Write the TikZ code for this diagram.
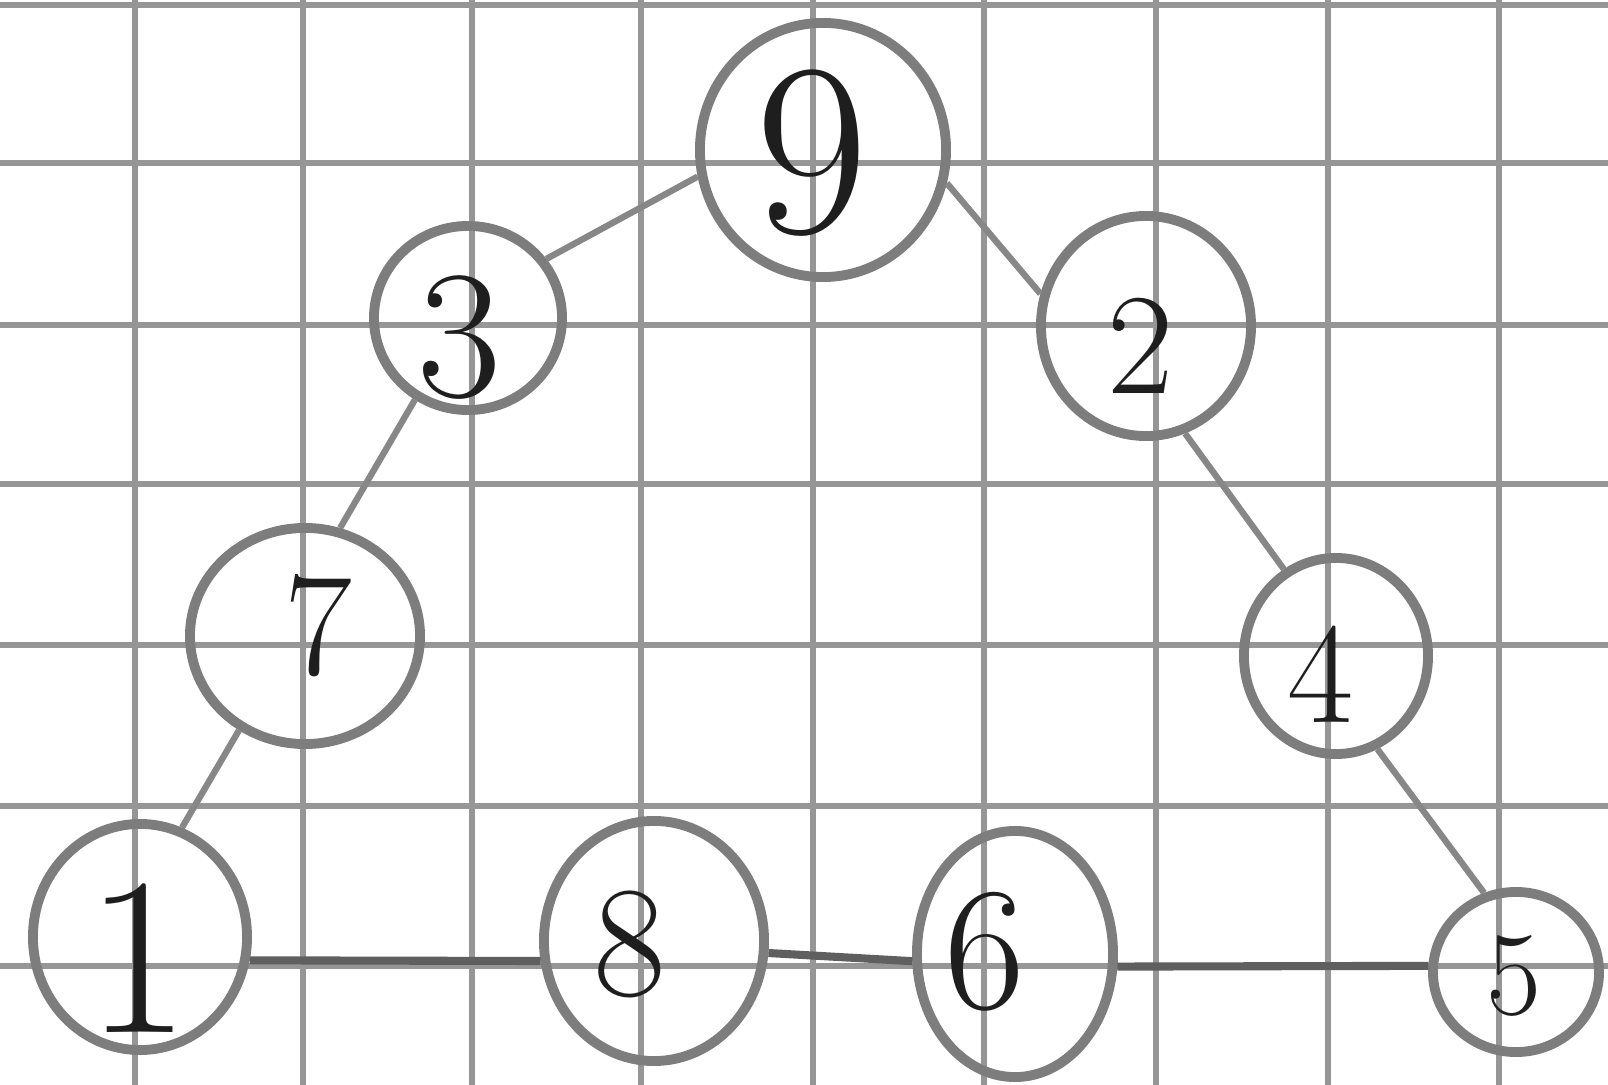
\documentclass[tikz,border=0pt]{standalone}
\usetikzlibrary{shapes.geometric}
\definecolor{gridc}{RGB}{150,150,150}
\definecolor{ringc}{RGB}{125,125,125}
\definecolor{edgec}{RGB}{135,135,135}
\definecolor{edged}{RGB}{95,95,95}
\definecolor{inkc}{RGB}{30,30,30}
\tikzset{
  gridline/.style={draw=gridc, line width=1.5pt},
  ring/.style={ellipse, draw=ringc, line width=2.8pt, inner sep=0pt},
  digit/.style={text=inkc, inner sep=0pt},
  edgelite/.style={draw=edgec, line width=1.8pt},
  edgedark/.style={draw=edged, line width=2.3pt},
}
\begin{document}
\begin{tikzpicture}[x=0.01cm,y=-0.01cm]
\useasboundingbox (0,0) rectangle (1608,1085);
\fill[white] (0,0) rectangle (1608,1085);
% grid
\foreach \gx in {135,303,472,641,813,984,1156,1328,1499}
  \draw[gridline] (\gx,0) -- (\gx,1085);
\foreach \gy in {5,163,325,484,645,806,966}
  \draw[gridline] (0,\gy) -- (1608,\gy);
% rings
\node[ring, minimum width=2.46cm, minimum height=2.54cm] (n9) at (823,150) {};
\node[ring, minimum width=1.88cm, minimum height=1.84cm] (n3) at (468,318) {};
\node[ring, minimum width=2.10cm, minimum height=2.20cm] (n2) at (1146,326) {};
\node[ring, minimum width=2.30cm, minimum height=2.16cm] (n7) at (305,636) {};
\node[ring, minimum width=1.84cm, minimum height=1.96cm] (n4) at (1336,656) {};
\node[ring, minimum width=2.14cm, minimum height=2.26cm] (n1) at (140,937) {};
\node[ring, minimum width=2.20cm, minimum height=2.40cm] (n8) at (654,941) {};
\node[ring, minimum width=1.96cm, minimum height=2.46cm] (n6) at (1015,954) {};
\node[ring, minimum width=1.66cm, minimum height=1.60cm] (n5) at (1516,972) {};
% edges
\draw[edgelite] (n3.37) -- (n9.192);
\draw[edgelite] (n9.-15) -- (n2.163);
\draw[edgelite] (n3.237) -- (n7.72);
\draw[edgelite] (n7.235) -- (n1.69);
\draw[edgelite] (n2.-70) -- (n4.121);
\draw[edgelite] (n4.-66) -- (n5.112);
\draw[edgedark] (n1.-12) -- (n8.190);
\draw[edgedark] (n8.-6) -- (n6.184);
\draw[edgedark] (n6.-7) -- (n5.176);
% digits
\node[digit, font=\fontsize{70}{72}\selectfont] (t9) at (812,153) {9};
\node[digit, font=\fontsize{52}{54}\selectfont] (t3) at (459,338) {3};
\node[digit, font=\fontsize{41}{43}\selectfont] (t2) at (1141,346) {2};
\node[digit, font=\fontsize{42}{44}\selectfont] (t7) at (318,626) {7};
\node[digit, font=\fontsize{41}{43}\selectfont] (t4) at (1321,674) {4};
\node[digit, font=\fontsize{64}{66}\selectfont] (t1) at (138,958) {1};
\node[digit, font=\fontsize{45}{47}\selectfont] (t8) at (630,944) {8};
\node[digit, font=\fontsize{50}{52}\selectfont] (t6) at (985,952) {6};
\node[digit, font=\fontsize{34}{36}\selectfont] (t5) at (1514,976) {5};
\end{tikzpicture}
\end{document}
